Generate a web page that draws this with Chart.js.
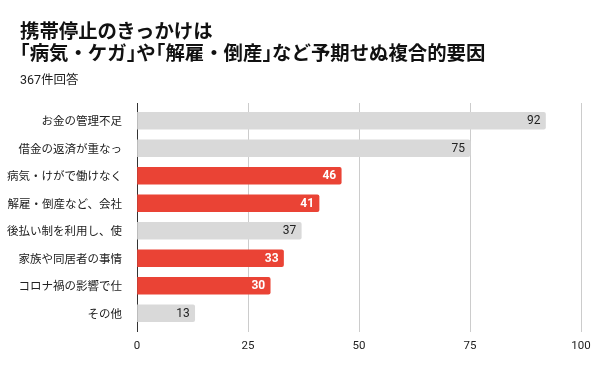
<!DOCTYPE html>
<html>
<head>
<meta charset="utf-8">
<script src="https://cdn.jsdelivr.net/npm/chart.js@4"></script>
<style>
body{margin:0;background:#fff;}
#wrap{position:relative;width:600px;height:371px;}
#title{position:absolute;left:20px;top:19px;font-family:"Noto Sans CJK JP",sans-serif;font-weight:bold;font-size:19.4px;line-height:22px;color:#111;white-space:nowrap;}
#title .h{font-feature-settings:"halt";}
#sub{position:absolute;left:20px;top:72px;font-family:Roboto,"Noto Sans CJK JP",sans-serif;font-size:12.5px;line-height:16px;color:#222;}
canvas{position:absolute;left:0;top:0;}
</style>
</head>
<body>
<div id="wrap">
<canvas id="chart" width="600" height="371"></canvas>
<div id="title">携帯停止のきっかけは<br><span class="h">「</span>病気・ケガ<span class="h">」</span>や<span class="h">「</span>解雇・倒産<span class="h">」</span>など予期せぬ複合的要因</div>
<div id="sub">367件回答</div>
</div>
<script>
const labels=["お金の管理不足","借金の返済が重なっ","病気・けがで働けなく","解雇・倒産など、会社","後払い制を利用し、使","家族や同居者の事情","コロナ禍の影響で仕","その他"];
const counts=[92,75,46,41,37,33,30,13];
const highlight=["病気・けがで働けなく","解雇・倒産など、会社","家族や同居者の事情","コロナ禍の影響で仕"];
const xTicks=[0,25,50,75,100];

const RED="#ea4335",GRAY="#d9d9d9";
function isRed(i){return highlight.includes(labels[i]);}

const valueLabels={
 id:"valueLabels",
 afterDatasetsDraw(chart){
  const ctx=chart.ctx;
  chart.getDatasetMeta(0).data.forEach((bar,i)=>{
   const red=isRed(i);
   ctx.save();
   ctx.font=(red?"bold ":"")+"12px Roboto";
   ctx.fillStyle=red?"#fff":"#222";
   ctx.textAlign="right";
   ctx.textBaseline="middle";
   ctx.fillText(counts[i],bar.x-5,bar.y+0.5);
   ctx.restore();
  });
 }
};

const gridCol=c=>c.tick&&c.tick.value===0?"#333":"#ccc";

new Chart(document.getElementById("chart"),{
 type:"bar",
 data:{
  labels:labels,
  datasets:[{
   data:counts,
   backgroundColor:counts.map((v,i)=>isRed(i)?RED:GRAY),
   borderRadius:2,
   borderSkipped:"start",
   barThickness:17
  }]
 },
 options:{
  indexAxis:"y",
  responsive:false,
  animation:false,
  layout:{padding:{top:103,right:19,bottom:0,left:0}},
  plugins:{legend:{display:false},tooltip:{enabled:false}},
  scales:{
   x:{
    min:0,max:100,
    afterBuildTicks(s){s.ticks=xTicks.map(v=>({value:v}));},
    afterFit(s){s.height=44;},
    border:{display:false},
    grid:{color:gridCol,lineWidth:1,tickLength:5},
    ticks:{padding:7,color:"#222",font:{family:"Roboto",size:11.5}}
   },
   x2:{
    position:"top",axis:"x",
    min:0,max:100,
    afterBuildTicks(s){s.ticks=xTicks.map(v=>({value:v}));},
    border:{display:false},
    grid:{color:gridCol,drawOnChartArea:false,tickLength:4},
    ticks:{display:false}
   },
   y:{
    afterFit(s){s.width=137;},
    border:{display:false},
    grid:{display:false},
    ticks:{padding:7,color:"#222",font:{family:"Noto Sans CJK JP",size:11.5}}
   }
  }
 },
 plugins:[valueLabels]
});
</script>
</body>
</html>
